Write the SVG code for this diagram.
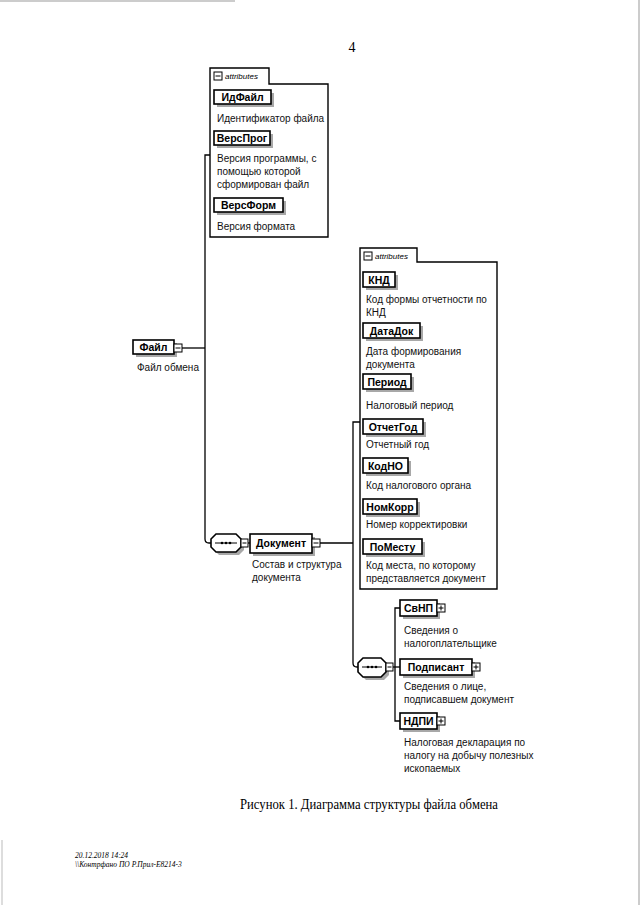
<svg xmlns="http://www.w3.org/2000/svg" width="640" height="905" viewBox="0 0 640 905">
<style>
.bx{fill:#fff;stroke:#000;stroke-width:1.6}
.sh{fill:#a8a8a8}
.nm{font-family:"Liberation Sans",Arial,sans-serif;font-weight:bold;font-size:10.5px;text-anchor:middle;fill:#000}
.ds{font-family:"Liberation Sans",Arial,sans-serif;font-size:10px;fill:#111}
.at{font-family:"Liberation Sans",Arial,sans-serif;font-style:italic;font-size:8px;fill:#000}
.ln{fill:none;stroke:#000;stroke-width:1.3}
.ic{fill:#fff;stroke:#000;stroke-width:1}
.frame{fill:#fff;stroke:#000;stroke-width:1.4}
.sr{font-family:"Liberation Serif","Times New Roman",serif;fill:#000}
</style>
<rect width="640" height="905" fill="#fff"/>
<line x1="0" y1="1" x2="235" y2="1" stroke="#999" stroke-width="1.2"/>
<line x1="639" y1="0" x2="639" y2="905" stroke="#999" stroke-width="1"/>
<line x1="2" y1="840" x2="2" y2="905" stroke="#bbb" stroke-width="1"/>
<text class="sr" x="352" y="52" font-size="14" text-anchor="middle">4</text>

<g id="connectors">
<path class="ln" d="M182,348 H205"/>
<path class="ln" d="M210,155 H205 V539 Q205,543 209,543 H211"/>
<path class="ln" d="M241,543 H250"/>
<path class="ln" d="M320,543 H353"/>
<path class="ln" d="M360,422 H353 V663 Q353,667 357,667 H358"/>
<path class="ln" d="M386,667 H400"/>
<path class="ln" d="M400,608 H395 V721 H400"/>
</g>

<g id="attributes1">
<path class="frame" d="M210,237 V68 H269 V84 H328 V237 Z"/>
<rect class="ic" x="214" y="72" width="8" height="8"/>
<line x1="215.5" y1="76" x2="220.5" y2="76" stroke="#000"/>
<text class="at" x="225" y="79">attributes</text>
</g>
<g id="ИдФайл">
<rect class="sh" x="217" y="93" width="57" height="14"/>
<rect class="bx" x="214" y="90" width="57" height="14"/>
<text class="nm" x="242.5" y="101">ИдФайл</text>
<text class="ds" x="217" y="122">Идентификатор файла</text>
</g>
<g id="ВерсПрог">
<rect class="sh" x="217" y="134" width="56" height="14"/>
<rect class="bx" x="214" y="131" width="56" height="14"/>
<text class="nm" x="242" y="142">ВерсПрог</text>
<text class="ds" x="217" y="162">Версия программы, с</text>
<text class="ds" x="217" y="175">помощью которой</text>
<text class="ds" x="217" y="188">сформирован файл</text>
</g>
<g id="ВерсФорм">
<rect class="sh" x="217" y="201" width="69" height="14"/>
<rect class="bx" x="214" y="198" width="69" height="14"/>
<text class="nm" x="248.5" y="209">ВерсФорм</text>
<text class="ds" x="217" y="230">Версия формата</text>
</g>

<g id="Файл">
<rect class="sh" x="136" y="343" width="41" height="14"/>
<rect class="bx" x="133" y="340" width="41" height="14"/>
<text class="nm" x="153.5" y="351">Файл</text>
<rect class="ic" x="174" y="344" width="8" height="8"/>
<line x1="175.5" y1="348" x2="180.5" y2="348" stroke="#000"/>
<text class="ds" x="137" y="371">Файл обмена</text>
</g>

<g id="sequence1">
<path class="sh" d="M219,537 H239 L244,542 V550 L239,555 H219 L214,550 V542 Z"/>
<path class="bx" d="M216,534 H236 L241,539 V547 L236,552 H216 L211,547 V539 Z"/>
<line x1="215" y1="543" x2="237" y2="543" stroke="#000" stroke-width="1"/>
<circle cx="222" cy="543" r="1.3"/><circle cx="226" cy="543" r="1.3"/><circle cx="230" cy="543" r="1.3"/>
<rect class="ic" x="241" y="539" width="7" height="8"/>
<line x1="242.5" y1="543" x2="246.5" y2="543" stroke="#000"/>
</g>

<g id="Документ">
<rect class="sh" x="253" y="537" width="62" height="19"/>
<rect class="bx" x="250" y="534" width="62" height="19"/>
<text class="nm" x="281" y="547">Документ</text>
<rect class="ic" x="312" y="539" width="8" height="8"/>
<line x1="313.5" y1="543" x2="318.5" y2="543" stroke="#000"/>
<text class="ds" x="252" y="568">Состав и структура</text>
<text class="ds" x="252" y="581">документа</text>
</g>

<g id="attributes2">
<path class="frame" d="M360,589 V248 H417 V262 H497 V589 Z"/>
<rect class="ic" x="364" y="252" width="8" height="8"/>
<line x1="365.5" y1="256" x2="370.5" y2="256" stroke="#000"/>
<text class="at" x="375" y="259">attributes</text>
</g>
<g id="КНД">
<rect class="sh" x="366" y="275" width="32" height="15"/>
<rect class="bx" x="363" y="272" width="32" height="15"/>
<text class="nm" x="379" y="283.5">КНД</text>
<text class="ds" x="366" y="303">Код формы отчетности по</text>
<text class="ds" x="366" y="316">КНД</text>
</g>
<g id="ДатаДок">
<rect class="sh" x="366" y="326" width="57" height="15"/>
<rect class="bx" x="363" y="323" width="57" height="15"/>
<text class="nm" x="391.5" y="334.5">ДатаДок</text>
<text class="ds" x="366" y="355">Дата формирования</text>
<text class="ds" x="366" y="368">документа</text>
</g>
<g id="Период">
<rect class="sh" x="366" y="377" width="48" height="15"/>
<rect class="bx" x="363" y="374" width="48" height="15"/>
<text class="nm" x="387" y="385.5">Период</text>
<text class="ds" x="366" y="409">Налоговый период</text>
</g>
<g id="ОтчетГод">
<rect class="sh" x="366" y="422" width="60" height="15"/>
<rect class="bx" x="363" y="419" width="60" height="15"/>
<text class="nm" x="393" y="430.5">ОтчетГод</text>
<text class="ds" x="366" y="448">Отчетный год</text>
</g>
<g id="КодНО">
<rect class="sh" x="366" y="461" width="45" height="15"/>
<rect class="bx" x="363" y="458" width="45" height="15"/>
<text class="nm" x="385.5" y="469.5">КодНО</text>
<text class="ds" x="366" y="489">Код налогового органа</text>
</g>
<g id="НомКорр">
<rect class="sh" x="366" y="502" width="54" height="15"/>
<rect class="bx" x="363" y="499" width="54" height="15"/>
<text class="nm" x="390" y="510.5">НомКорр</text>
<text class="ds" x="366" y="528">Номер корректировки</text>
</g>
<g id="ПоМесту">
<rect class="sh" x="366" y="542" width="59" height="15"/>
<rect class="bx" x="363" y="539" width="59" height="15"/>
<text class="nm" x="392.5" y="550.5">ПоМесту</text>
<text class="ds" x="366" y="569">Код места, по которому</text>
<text class="ds" x="366" y="582">представляется документ</text>
</g>

<g id="sequence2">
<path class="sh" d="M366,661 H384 L389,666 V675 L384,680 H366 L361,675 V666 Z"/>
<path class="bx" d="M363,658 H381 L386,663 V672 L381,677 H363 L358,672 V663 Z"/>
<line x1="362" y1="667" x2="382" y2="667" stroke="#000" stroke-width="1"/>
<circle cx="368" cy="667" r="1.3"/><circle cx="372" cy="667" r="1.3"/><circle cx="376" cy="667" r="1.3"/>
<rect class="ic" x="386" y="663" width="7" height="8"/>
<line x1="387.5" y1="667" x2="391.5" y2="667" stroke="#000"/>
</g>

<g id="СвНП">
<rect class="sh" x="403" y="603" width="37" height="16"/>
<rect class="bx" x="400" y="600" width="37" height="16"/>
<text class="nm" x="418.5" y="611.5">СвНП</text>
<rect class="ic" x="437" y="604" width="8" height="8"/>
<line x1="438.5" y1="608" x2="443.5" y2="608" stroke="#000"/>
<line x1="441" y1="605.5" x2="441" y2="610.5" stroke="#000"/>
<text class="ds" x="404" y="634">Сведения о</text>
<text class="ds" x="404" y="647">налогоплательщике</text>
</g>
<g id="Подписант">
<rect class="sh" x="403" y="662" width="72" height="16"/>
<rect class="bx" x="400" y="659" width="72" height="16"/>
<text class="nm" x="436" y="670.5">Подписант</text>
<rect class="ic" x="472" y="663" width="8" height="8"/>
<line x1="473.5" y1="667" x2="478.5" y2="667" stroke="#000"/>
<line x1="476" y1="664.5" x2="476" y2="669.5" stroke="#000"/>
<text class="ds" x="404" y="690">Сведения о лице,</text>
<text class="ds" x="404" y="703">подписавшем документ</text>
</g>
<g id="НДПИ">
<rect class="sh" x="403" y="716" width="37" height="16"/>
<rect class="bx" x="400" y="713" width="37" height="16"/>
<text class="nm" x="418.5" y="724.5">НДПИ</text>
<rect class="ic" x="437" y="717" width="8" height="8"/>
<line x1="438.5" y1="721" x2="443.5" y2="721" stroke="#000"/>
<line x1="441" y1="718.5" x2="441" y2="723.5" stroke="#000"/>
<text class="ds" x="404" y="746">Налоговая декларация по</text>
<text class="ds" x="404" y="759">налогу на добычу полезных</text>
<text class="ds" x="404" y="772">ископаемых</text>
</g>

<text class="sr" x="369" y="809" font-size="15.5" text-anchor="middle" textLength="258" lengthAdjust="spacingAndGlyphs">Рисунок 1. Диаграмма структуры файла обмена</text>
<text class="sr" x="75" y="858" font-size="7.5" font-style="italic" fill="#333">20.12.2018 14:24</text>
<text class="sr" x="75" y="867" font-size="7.5" font-style="italic" fill="#333">\\Контрфано ПО Р.Прил-Е8214-3</text>
</svg>
